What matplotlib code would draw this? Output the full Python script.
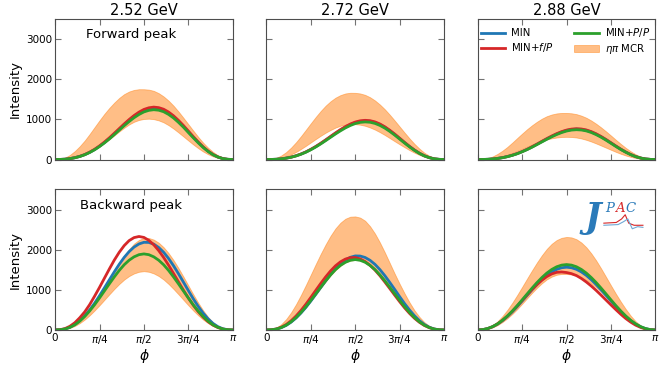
import numpy as np
import matplotlib.pyplot as plt

# phi grid in degrees (curves every 5 deg)
phi_deg = list(range(0, 181, 5))

energies = ['2.52 GeV', '2.72 GeV', '2.88 GeV']

# forward peak, 2.52 GeV
f252_hi = [0, 10, 44, 113, 210, 331, 472, 634, 805, 975, 1138, 1286, 1418, 1534, 1628, 1693, 1733, 1751, 1750,
           1740, 1710, 1652, 1570, 1465, 1340, 1196, 1040, 880, 720, 564, 420, 295, 190, 106, 45, 10, 0]
f252_lo = [0, 2, 8, 22, 45, 80, 125, 183, 250, 326, 410, 503, 600, 698, 790, 873, 940, 985, 1010,
           1017, 1005, 974, 925, 855, 770, 675, 575, 474, 375, 283, 200, 132, 78, 40, 15, 4, 0]
f252_min = [0, 2, 8, 22, 45, 77, 121, 178, 247, 330, 423, 526, 636, 750, 862, 969, 1066, 1149, 1214,
            1254, 1270, 1258, 1219, 1151, 1060, 949, 825, 691, 556, 427, 309, 206, 122, 62, 23, 5, 0]
f252_fp = [0, 2, 8, 23, 46, 79, 124, 183, 254, 339, 435, 540, 654, 770, 886, 995, 1095, 1180, 1247,
           1288, 1305, 1292, 1252, 1182, 1089, 975, 848, 710, 571, 439, 317, 212, 126, 64, 24, 5, 0]
f252_pp = [0, 2, 7, 21, 44, 75, 118, 174, 242, 322, 413, 513, 621, 732, 842, 946, 1041, 1121, 1185,
           1224, 1240, 1228, 1190, 1123, 1035, 926, 806, 674, 543, 417, 301, 201, 120, 61, 22, 5, 0]

# forward peak, 2.72 GeV
f272_hi = [0, 9, 40, 100, 185, 297, 430, 580, 740, 902, 1060, 1208, 1340, 1451, 1540, 1604, 1645, 1662, 1660,
           1645, 1610, 1551, 1470, 1369, 1250, 1115, 970, 820, 670, 525, 390, 271, 170, 94, 40, 9, 0]
f272_lo = [0, 3, 14, 38, 75, 126, 188, 262, 342, 426, 510, 592, 668, 736, 795, 840, 869, 882, 880,
           867, 840, 798, 745, 681, 610, 533, 455, 379, 305, 234, 170, 114, 68, 35, 13, 3, 0]
f272_min = [0, 2, 6, 17, 34, 58, 92, 135, 187, 250, 320, 398, 482, 568, 652, 734, 807, 870, 919,
            949, 961, 952, 923, 871, 802, 718, 624, 523, 421, 323, 234, 156, 93, 47, 17, 4, 0]
f272_fp = [0, 2, 6, 17, 35, 59, 93, 137, 190, 254, 325, 404, 489, 576, 663, 745, 819, 883, 933,
           964, 976, 967, 937, 885, 815, 729, 634, 531, 427, 328, 237, 158, 94, 48, 18, 4, 0]
f272_pp = [0, 1, 6, 16, 33, 57, 89, 131, 182, 243, 312, 388, 469, 553, 636, 714, 786, 847, 895,
           925, 936, 928, 899, 849, 782, 700, 608, 509, 410, 315, 228, 152, 90, 46, 17, 4, 0]

# forward peak, 2.88 GeV
f288_hi = [0, 7, 29, 75, 139, 219, 313, 421, 534, 646, 754, 852, 940, 1017, 1079, 1121, 1148, 1160, 1160,
           1151, 1130, 1092, 1040, 971, 890, 799, 700, 596, 490, 387, 290, 204, 130, 72, 30, 7, 0]
f288_lo = [0, 2, 9, 25, 48, 80, 120, 165, 215, 267, 320, 372, 420, 463, 500, 528, 548, 561, 565,
           561, 548, 524, 490, 448, 400, 348, 295, 242, 190, 142, 100, 65, 38, 19, 7, 2, 0]
f288_min = [0, 1, 5, 13, 27, 46, 72, 106, 147, 197, 252, 313, 379, 447, 514, 578, 635, 685, 724,
            747, 757, 750, 727, 686, 632, 566, 492, 412, 331, 254, 184, 123, 73, 37, 14, 3, 0]
f288_fp = [0, 1, 5, 13, 27, 47, 73, 108, 149, 199, 255, 318, 384, 453, 521, 585, 644, 694, 733,
           757, 767, 760, 736, 695, 640, 573, 498, 417, 336, 258, 187, 124, 74, 37, 14, 3, 0]
f288_pp = [0, 1, 5, 13, 26, 45, 71, 104, 144, 193, 247, 307, 372, 438, 504, 566, 623, 671, 709,
           733, 742, 735, 712, 673, 619, 555, 482, 404, 325, 249, 181, 120, 71, 36, 13, 3, 0]

# backward peak, 2.52 GeV
b252_hi = [0, 5, 25, 68, 135, 230, 350, 497, 665, 852, 1050, 1255, 1460, 1656, 1840, 2010, 2150, 2242, 2290,
           2291, 2250, 2173, 2060, 1914, 1740, 1543, 1330, 1109, 890, 681, 490, 325, 190, 96, 35, 7, 0]
b252_lo = [0, 4, 18, 50, 100, 170, 259, 365, 485, 616, 752, 889, 1022, 1146, 1255, 1343, 1408, 1449, 1464,
           1449, 1408, 1343, 1255, 1146, 1022, 889, 752, 616, 485, 365, 259, 170, 100, 50, 18, 4, 0]
b252_min = [0, 5, 25, 68, 135, 231, 353, 500, 667, 853, 1050, 1250, 1447, 1636, 1807, 1951, 2064, 2142, 2183,
            2180, 2137, 2054, 1935, 1780, 1600, 1402, 1194, 983, 778, 589, 420, 277, 163, 82, 30, 6, 0]
b252_fp = [0, 7, 34, 92, 180, 305, 450, 630, 840, 1060, 1290, 1520, 1740, 1935, 2100, 2225, 2300, 2328, 2305,
           2232, 2121, 1977, 1806, 1613, 1408, 1200, 994, 798, 617, 457, 320, 208, 121, 60, 22, 4, 0]
b252_pp = [0, 5, 23, 65, 129, 220, 335, 472, 627, 797, 973, 1150, 1322, 1483, 1624, 1737, 1821, 1875, 1894,
           1875, 1821, 1737, 1624, 1483, 1322, 1150, 973, 797, 627, 472, 335, 220, 129, 65, 23, 5, 0]

# backward peak, 2.72 GeV
b272_hi = [0, 12, 55, 143, 270, 438, 640, 871, 1120, 1379, 1640, 1893, 2130, 2346, 2530, 2671, 2770, 2821, 2828,
           2798, 2720, 2583, 2400, 2178, 1930, 1666, 1400, 1148, 910, 688, 490, 326, 195, 102, 40, 8, 0]
b272_lo = [0, 4, 20, 56, 112, 193, 295, 419, 560, 716, 880, 1045, 1205, 1356, 1490, 1599, 1680, 1728, 1745,
           1732, 1690, 1616, 1515, 1389, 1245, 1088, 925, 760, 600, 455, 325, 215, 127, 64, 23, 5, 0]
b272_min = [0, 4, 21, 57, 114, 195, 298, 422, 563, 721, 887, 1056, 1222, 1382, 1526, 1648, 1743, 1809, 1844,
            1841, 1805, 1735, 1634, 1504, 1352, 1184, 1009, 830, 657, 498, 355, 234, 138, 69, 25, 5, 0]
b272_fp = [0, 5, 25, 68, 135, 229, 347, 486, 642, 812, 986, 1158, 1321, 1470, 1598, 1696, 1765, 1801, 1803,
           1769, 1704, 1610, 1492, 1351, 1195, 1032, 867, 705, 551, 413, 292, 192, 112, 57, 21, 4, 0]
b272_pp = [0, 5, 22, 60, 120, 204, 310, 437, 581, 738, 901, 1064, 1224, 1372, 1503, 1608, 1686, 1735, 1753,
           1735, 1686, 1608, 1503, 1372, 1224, 1064, 901, 738, 581, 437, 310, 204, 120, 60, 22, 5, 0]

# backward peak, 2.88 GeV
b288_hi = [0, 10, 45, 115, 215, 345, 500, 677, 870, 1073, 1280, 1484, 1680, 1861, 2020, 2147, 2240, 2295, 2316,
           2305, 2260, 2177, 2060, 1908, 1730, 1531, 1320, 1108, 900, 703, 520, 354, 215, 114, 45, 10, 0]
b288_lo = [0, 6, 25, 63, 120, 197, 290, 399, 520, 653, 790, 924, 1050, 1164, 1260, 1329, 1375, 1395, 1395,
           1381, 1350, 1303, 1240, 1158, 1060, 949, 830, 705, 580, 459, 345, 240, 150, 81, 32, 7, 0]
b288_min = [0, 8, 34, 80, 145, 231, 334, 452, 581, 720, 861, 1000, 1132, 1253, 1360, 1446, 1510, 1550, 1563,
            1550, 1510, 1446, 1360, 1253, 1132, 1000, 861, 720, 581, 452, 334, 231, 145, 80, 34, 8, 0]
b288_fp = [0, 8, 34, 82, 150, 239, 345, 466, 598, 736, 875, 1007, 1130, 1239, 1330, 1396, 1436, 1444, 1430,
           1402, 1355, 1283, 1195, 1095, 985, 867, 745, 624, 505, 390, 285, 195, 120, 64, 25, 5, 0]
b288_pp = [0, 8, 35, 83, 151, 241, 348, 471, 606, 750, 897, 1042, 1180, 1306, 1417, 1507, 1574, 1615, 1629,
           1615, 1574, 1507, 1417, 1306, 1180, 1042, 897, 750, 606, 471, 348, 241, 151, 83, 35, 8, 0]

panels = [
    [(f252_lo, f252_hi, f252_min, f252_fp, f252_pp),
     (f272_lo, f272_hi, f272_min, f272_fp, f272_pp),
     (f288_lo, f288_hi, f288_min, f288_fp, f288_pp)],
    [(b252_lo, b252_hi, b252_min, b252_fp, b252_pp),
     (b272_lo, b272_hi, b272_min, b272_fp, b272_pp),
     (b288_lo, b288_hi, b288_min, b288_fp, b288_pp)],
]

phi = np.deg2rad(phi_deg)
c_min = '#1f77b4'
c_fp = '#d62728'
c_pp = '#2ca02c'

fig, axes = plt.subplots(2, 3, figsize=(6.64, 3.65), dpi=100)
fig.subplots_adjust(left=0.083, right=0.987, top=0.948, bottom=0.096, wspace=0.19, hspace=0.213)

for r in range(2):
    for c in range(3):
        ax = axes[r, c]
        lo, hi, mn, fp, pp = panels[r][c]
        band = ax.fill_between(phi, lo, hi, color='tab:orange', alpha=0.5, lw=0.6, label=r'$\eta\pi$ MCR')
        l1, = ax.plot(phi, mn, color=c_min, lw=2, label='MIN')
        l2, = ax.plot(phi, fp, color=c_fp, lw=2, label='MIN+$f/P$')
        l3, = ax.plot(phi, pp, color=c_pp, lw=2, label='MIN+$P/P$')
        ax.set_xlim(0, np.pi)
        ax.set_ylim(0, 3500)
        ax.set_xticks([0, np.pi/4, np.pi/2, 3*np.pi/4, np.pi])
        ax.set_yticks([0, 1000, 2000, 3000])
        ax.tick_params(direction='in', top=True, right=True, length=4, width=0.8,
                       color='0.45', labelsize=7.5, pad=2)
        for s in ax.spines.values():
            s.set_color('0.3')
            s.set_linewidth(0.8)
        if r == 1:
            ax.set_xticklabels(['0', r'$\pi/4$', r'$\pi/2$', r'$3\pi/4$', r'$\pi$'])
            ax.set_xlabel(r'$\phi$', fontsize=10, labelpad=1)
        else:
            ax.set_xticklabels([])
            ax.set_title(energies[c], fontsize=10.5, pad=3)
        if c == 0:
            ax.set_ylabel('Intensity', fontsize=9.5, labelpad=3)
        else:
            ax.set_yticklabels([])
        if r == 0 and c == 2:
            ax.legend(handles=[l1, l2, l3, band], ncol=2, frameon=False, fontsize=7.3,
                      loc='upper right', bbox_to_anchor=(1.01, 1.0), handlelength=2.4,
                      columnspacing=2.0, handletextpad=0.6, borderaxespad=0.3, labelspacing=0.3)

axes[0, 0].text(0.43, 0.89, 'Forward peak', transform=axes[0, 0].transAxes,
                ha='center', va='center', fontsize=9.5)
axes[1, 0].text(0.43, 0.886, 'Backward peak', transform=axes[1, 0].transAxes,
                ha='center', va='center', fontsize=9.5)

# JPAC logo
lg = axes[1, 2]
lg.text(0.645, 0.80, 'J', transform=lg.transAxes, ha='center', va='center', fontsize=25,
        color='#2a7ab9', fontweight='bold', fontstyle='italic', family='DejaVu Serif')
lg.text(0.715, 0.865, 'P', transform=lg.transAxes, ha='left', va='center', fontsize=9.5,
        color='#2a7ab9', fontstyle='italic', family='DejaVu Serif')
lg.text(0.772, 0.865, 'A', transform=lg.transAxes, ha='left', va='center', fontsize=9.5,
        color='#d62728', fontstyle='italic', family='DejaVu Serif')
lg.text(0.832, 0.865, 'C', transform=lg.transAxes, ha='left', va='center', fontsize=9.5,
        color='#2a7ab9', fontstyle='italic', family='DejaVu Serif')
lg.plot([0.71, 0.78, 0.81, 0.83, 0.85, 0.88, 0.93], [0.76, 0.765, 0.79, 0.82, 0.76, 0.745, 0.745],
        transform=lg.transAxes, color='#d62728', lw=0.8)
lg.plot([0.71, 0.79, 0.82, 0.845, 0.87, 0.90, 0.93], [0.745, 0.75, 0.77, 0.79, 0.72, 0.735, 0.73],
        transform=lg.transAxes, color='#6fa8d6', lw=0.8)

plt.savefig('out.png', dpi=100)
